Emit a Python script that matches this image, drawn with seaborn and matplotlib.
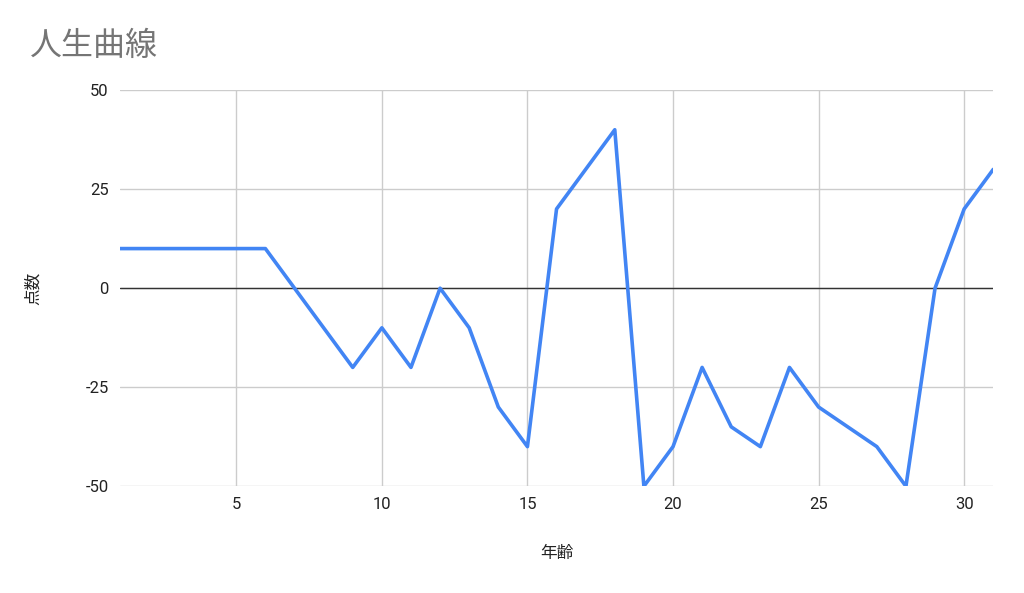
import pandas as pd
import seaborn as sns
import matplotlib.pyplot as plt

# Data
ages = list(range(1, 32))
scores = [10, 10, 10, 10, 10, 10, 0, -10, -20, -10,
          -20, 0, -10, -30, -40, 20, 30, 40, -50, -40,
          -20, -35, -40, -20, -30, -35, -40, -50, 0, 20, 30]
x_ticks = [5, 10, 15, 20, 25, 30]
y_ticks = [-50, -25, 0, 25, 50]

df = pd.DataFrame({'年齢': ages, '点数': scores})

sns.set_style('white')
plt.rcParams['font.family'] = ['Roboto', 'Noto Sans CJK JP', 'DejaVu Sans']
plt.rcParams['axes.unicode_minus'] = False

fig = plt.figure(figsize=(10.24, 5.93), dpi=100)
ax = fig.add_axes([0.117, 0.180, 0.853, 0.668])

sns.lineplot(data=df, x='年齢', y='点数', color='#4285F4', linewidth=2.6, ax=ax, zorder=3)

ax.set_xlim(1, 31)
ax.set_ylim(-50, 50)
ax.set_xticks(x_ticks)
ax.set_yticks(y_ticks)
ax.grid(True, color='#cccccc', linewidth=1)
ax.axhline(0, color='#333333', linewidth=1, zorder=2)
for s in ax.spines.values():
    s.set_visible(False)
ax.tick_params(length=0, labelsize=12, colors='#222222', pad=8)

ax.set_xlabel('年齢', fontsize=12, color='#222222', labelpad=24)
ax.set_ylabel('点数', fontsize=12, color='#222222', labelpad=32)

fig.text(0.029, 0.922, '人生曲線', fontsize=23, color='#757575', va='center', ha='left')

fig.savefig('out.png', dpi=100)
